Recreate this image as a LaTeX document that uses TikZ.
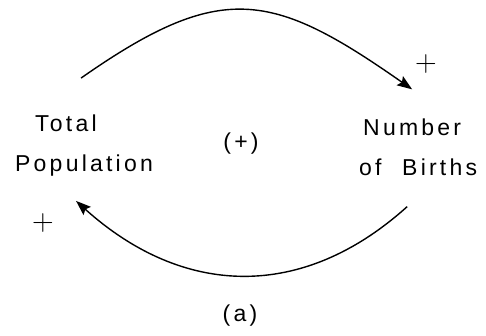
\documentclass[tikz,border=0pt]{standalone}
\usepackage{fontspec}
\usepackage{tikz}
\usetikzlibrary{arrows.meta,positioning,calc}
\newfontfamily\loopfont[LetterSpace=14]{Liberation Sans}

\begin{document}
\begin{tikzpicture}[
    x=1pt, y=1pt,
    var/.style={inner sep=0pt, align=left, font=\loopfont\fontsize{23}{40}\selectfont},
    sign/.style={inner sep=0pt, font=\rmfamily\fontsize{30}{30}\selectfont},
    arr/.style={-{Stealth[length=15pt,width=11pt,inset=2.5pt]}, line width=1.4pt}
]
\useasboundingbox (0,0) rectangle (486,335);
\node[var, anchor=west] (pop) at (15,189) {\hspace*{20pt}Total\\Population};
\node[var, anchor=west] (births) at (359,188) {\hspace*{4pt}Number\\of\hspace{11pt} Births};
\node[var] (loop) at (241,191) {(+)};
\node[var] (cap) at (240,19) {(a)};
\node[sign] (plusb) at (426,271) {+};
\node[sign] (plusp) at (43,112) {+};

\draw[arr] ([shift={(-3,37)}]pop.north) to[out=35, in=145, looseness=1.32] ([shift={(-6,29)}]births.north);
\draw[arr] ([shift={(-11,-31)}]births.south) to[out=222, in=-42, looseness=1.1] ([shift={(-8,-24)}]pop.south);
\end{tikzpicture}
\end{document}
